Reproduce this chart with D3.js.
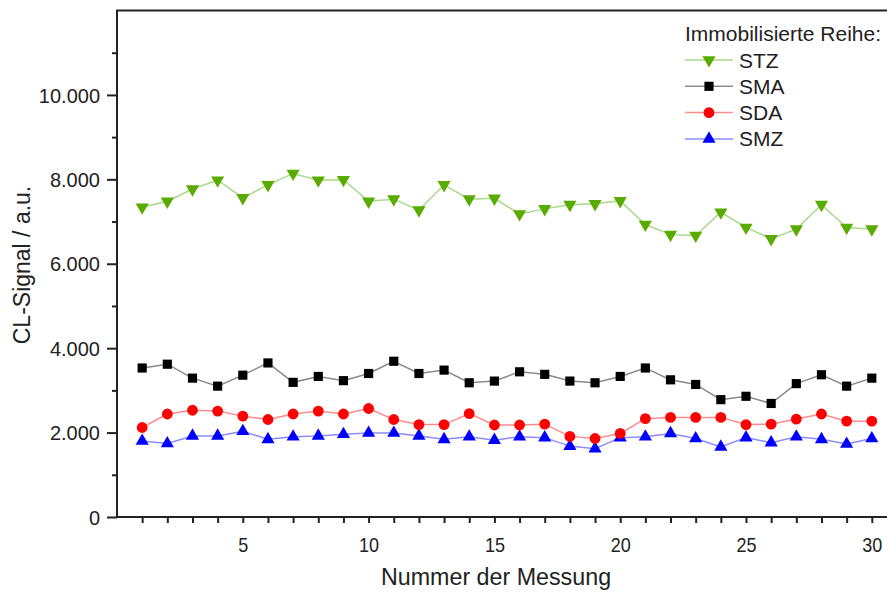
<!DOCTYPE html>
<html>
<head>
<meta charset="utf-8">
<script src="https://cdn.jsdelivr.net/npm/d3@7"></script>
<style>
  body { margin: 0; background: #fff; }
  text { font-family: "Liberation Sans", Arial, sans-serif; fill: #222; }
</style>
</head>
<body>
<div class="chart"></div>
<script>
// Messung 1..30
var messung = d3.range(1, 31);

var stz = [7340, 7480, 7770, 7980, 7560, 7870, 8140, 7980, 7990, 7480,
           7530, 7270, 7870, 7530, 7550, 7180, 7300, 7400, 7420, 7490,
           6930, 6690, 6670, 7220, 6860, 6590, 6820, 7400, 6860, 6820];
var sma = [3530, 3620, 3290, 3100, 3360, 3650, 3190, 3330, 3230, 3400,
           3690, 3400, 3480, 3180, 3220, 3440, 3380, 3220, 3180, 3330,
           3530, 3250, 3140, 2780, 2860, 2690, 3160, 3370, 3100, 3290];
var sda = [2120, 2440, 2530, 2510, 2390, 2310, 2440, 2510, 2440, 2570,
           2310, 2190, 2190, 2450, 2180, 2180, 2200, 1910, 1860, 1980,
           2330, 2360, 2360, 2360, 2190, 2200, 2320, 2440, 2270, 2270];
var smz = [1800, 1740, 1920, 1920, 2030, 1840, 1900, 1920, 1960, 1990,
           1990, 1920, 1840, 1900, 1820, 1900, 1880, 1680, 1620, 1880,
           1900, 1980, 1860, 1660, 1880, 1760, 1900, 1840, 1730, 1860];

var legendTitle = "Immobilisierte Reihe:";
var seriesNames = ["STZ", "SMA", "SDA", "SMZ"];
var yMajorTicks = [0, 2000, 4000, 6000, 8000, 10000];
var yMinorTicks = [1000, 3000, 5000, 7000, 9000, 11000];
var xMajorTicks = [5, 10, 15, 20, 25, 30];

var series = [
  { name: "STZ", values: stz, color: "#5aab00", line: "#a8d98c", symbol: d3.symbolTriangle, size: 75, rotate: 180 },
  { name: "SMA", values: sma, color: "#000000", line: "#8a8a8a", symbol: d3.symbolSquare, size: 84, rotate: 0 },
  { name: "SDA", values: sda, color: "#ff0000", line: "#ff8c8c", symbol: d3.symbolCircle, size: 92, rotate: 0 },
  { name: "SMZ", values: smz, color: "#0000ff", line: "#8c8cff", symbol: d3.symbolTriangle, size: 75, rotate: 0 }
];

var W = 887, H = 592;
var plotLeft = 117, plotTop = 10.5, plotBottom = 517;

var svg = d3.select(".chart")
  .append("svg")
    .attr("width", W)
    .attr("height", H);

var x = d3.scaleLinear().domain([0, 31]).range([plotLeft, plotLeft + 31 * 25.16]);
var y = d3.scaleLinear().domain([0, 12000]).range([plotBottom, plotTop]);

var fmt = d3.formatLocale({ decimal: ",", thousands: ".", grouping: [3], currency: ["", ""] }).format(",d");

// frame: left axis + top line
svg.append("path")
  .attr("d", "M" + plotLeft + "," + plotBottom + "V" + plotTop + "H" + (W + 5))
  .attr("fill", "none")
  .attr("stroke", "#222")
  .attr("stroke-width", 2);

// y axis
var yAxis = svg.append("g")
  .attr("transform", "translate(" + plotLeft + ",0)")
  .call(d3.axisLeft(y).tickValues(yMajorTicks).tickSize(10).tickPadding(7).tickFormat(fmt));
yAxis.select(".domain").remove();
yAxis.selectAll("line").attr("stroke", "#222").attr("stroke-width", 2);
yAxis.selectAll("text").style("font-size", "20px").attr("fill", "#222").attr("dy", "0.36em");

var yMinor = svg.append("g")
  .attr("transform", "translate(" + plotLeft + ",0)")
  .call(d3.axisLeft(y).tickValues(yMinorTicks).tickSize(5).tickFormat(""));
yMinor.select(".domain").remove();
yMinor.selectAll("line").attr("stroke", "#222").attr("stroke-width", 2);

// x axis
var xAxis = svg.append("g")
  .attr("transform", "translate(0," + plotBottom + ")")
  .call(d3.axisBottom(x).tickValues(d3.range(1, 32)).tickSize(6).tickPadding(8)
    .tickFormat(function(d) { return xMajorTicks.indexOf(d) >= 0 ? d : ""; }));
xAxis.select(".domain")
  .attr("d", "M" + (plotLeft - 1) + ",0H" + (W + 5))
  .attr("stroke", "#222").attr("stroke-width", 2);
xAxis.selectAll("line").attr("stroke", "#222").attr("stroke-width", 2);
xAxis.selectAll("text")
  .style("font-size", "20px")
  .attr("fill", "#222")
  .attr("y", 35)
  .attr("dy", null)
  .attr("transform", "scale(0.9,1)")
  .attr("x", 0);

// axis titles
svg.append("text")
  .attr("transform", "translate(30,265) rotate(-90)")
  .attr("text-anchor", "middle")
  .style("font-size", "23px")
  .text("CL-Signal / a.u.");

svg.append("text")
  .attr("transform", "translate(496,585) scale(0.97,1)")
  .attr("text-anchor", "middle")
  .style("font-size", "24px")
  .text("Nummer der Messung");

// series
var line = d3.line()
  .x(function(d, i) { return x(messung[i]); })
  .y(function(d) { return y(d); });

series.slice().reverse().forEach(function(s) {
  svg.append("path")
    .datum(s.values)
    .attr("fill", "none")
    .attr("stroke", s.line)
    .attr("stroke-width", 1.5)
    .attr("d", line);

  svg.selectAll(null)
    .data(s.values)
    .enter()
    .append("path")
      .attr("d", d3.symbol().type(s.symbol).size(s.size))
      .attr("transform", function(d, i) {
        return "translate(" + x(messung[i]) + "," + y(d) + ") rotate(" + s.rotate + ")";
      })
      .attr("fill", s.color);
});

// legend
var legend = svg.append("g");
legend.append("text")
  .attr("x", 685)
  .attr("y", 41)
  .style("font-size", "21px")
  .text(legendTitle);

series.forEach(function(s, i) {
  var ly = 60 + i * 26.3;
  var g = legend.append("g").attr("transform", "translate(0," + ly + ")");
  g.append("line")
    .attr("x1", 685).attr("x2", 733)
    .attr("y1", 0).attr("y2", 0)
    .attr("stroke", s.line).attr("stroke-width", 1.5);
  g.append("path")
    .attr("d", d3.symbol().type(s.symbol).size(s.size))
    .attr("transform", "translate(709,0) rotate(" + s.rotate + ")")
    .attr("fill", s.color);
  g.append("text")
    .attr("x", 739)
    .attr("y", 0)
    .attr("dy", "0.36em")
    .style("font-size", "21px")
    .text(seriesNames[i]);
});
</script>
</body>
</html>
